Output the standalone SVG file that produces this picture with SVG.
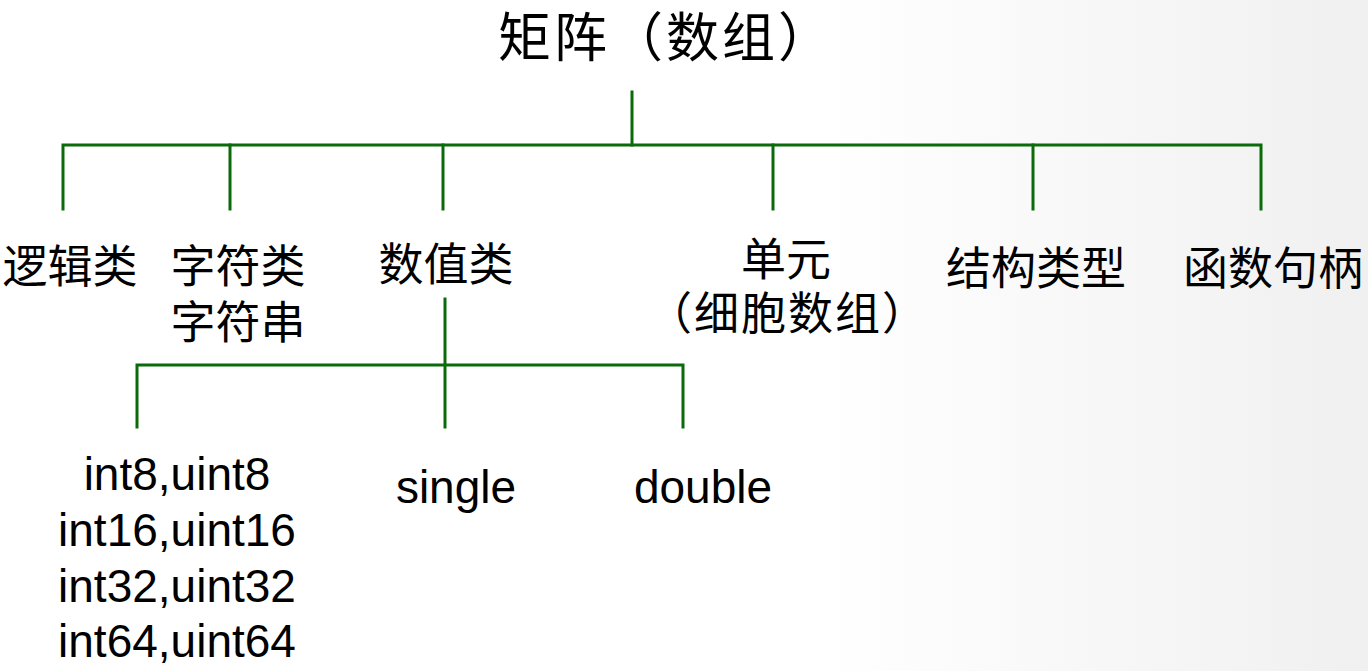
<svg xmlns="http://www.w3.org/2000/svg" width="1368" height="671" viewBox="0 0 1368 671">
  <defs>
    <linearGradient id="bg" x1="0" y1="0" x2="1" y2="0">
      <stop offset="0" stop-color="#ffffff"/>
      <stop offset="0.6" stop-color="#ffffff"/>
      <stop offset="1" stop-color="#f0f0f0"/>
    </linearGradient>
    <style>
      .cjk { font-family: "Noto Sans CJK SC", "Noto Sans", sans-serif; fill: #000; text-anchor: middle; }
      .lat { font-family: "Liberation Sans", Arial, sans-serif; font-size: 46px; fill: #000; text-anchor: middle; }
      .ln { stroke: #0b6b0b; stroke-width: 3; fill: none; stroke-linecap: square; }
    </style>
  </defs>
  <rect x="0" y="0" width="1368" height="671" fill="url(#bg)"/>

  <g id="connectors">
    <path class="ln" d="M632,92 V145"/>
    <path class="ln" d="M63,209 V145 H1261 V209"/>
    <path class="ln" d="M230,145 V209"/>
    <path class="ln" d="M443,145 V209"/>
    <path class="ln" d="M773,145 V209"/>
    <path class="ln" d="M1033,145 V209"/>
    <path class="ln" d="M445,299 V427"/>
    <path class="ln" d="M137,427 V365 H683 V427"/>
  </g>

  <g id="root"><text class="cjk" x="666" y="57" font-size="53" letter-spacing="3">矩阵（数组）</text></g>
  <g id="logical"><text class="cjk" x="70" y="283" font-size="45">逻辑类</text></g>
  <g id="char">
    <text class="cjk" x="238" y="283" font-size="45">字符类</text>
    <text class="cjk" x="238" y="339" font-size="45">字符串</text>
  </g>
  <g id="numeric"><text class="cjk" x="446" y="281" font-size="45">数值类</text></g>
  <g id="cell">
    <text class="cjk" x="786" y="276" font-size="45">单元</text>
    <text class="cjk" x="788" y="330" font-size="45" letter-spacing="2">（细胞数组）</text>
  </g>
  <g id="struct"><text class="cjk" x="1036" y="285" font-size="45">结构类型</text></g>
  <g id="handle"><text class="cjk" x="1273" y="285" font-size="45">函数句柄</text></g>

  <g id="ints">
    <text class="lat" x="177" y="490">int8,uint8</text>
    <text class="lat" x="177" y="546">int16,uint16</text>
    <text class="lat" x="177" y="602">int32,uint32</text>
    <text class="lat" x="177" y="657">int64,uint64</text>
  </g>
  <g id="single"><text class="lat" x="456" y="503">single</text></g>
  <g id="double"><text class="lat" x="703" y="503">double</text></g>
</svg>
